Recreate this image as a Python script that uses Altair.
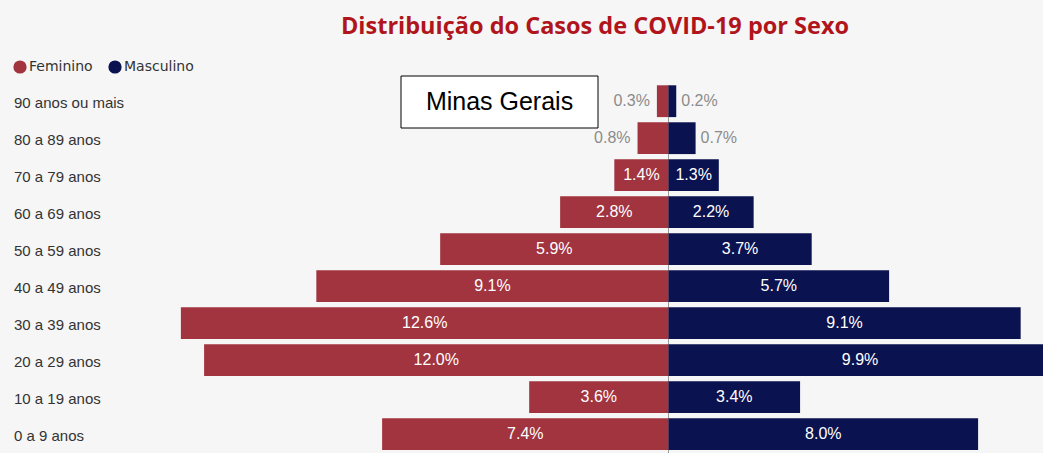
import altair as alt
import pandas as pd

# ---- data ----
ages = ["0 a 9 anos", "10 a 19 anos", "20 a 29 anos", "30 a 39 anos", "40 a 49 anos",
        "50 a 59 anos", "60 a 69 anos", "70 a 79 anos", "80 a 89 anos", "90 anos ou mais"]
feminino = [7.4, 3.6, 12.0, 12.6, 9.1, 5.9, 2.8, 1.4, 0.8, 0.3]
masculino = [8.0, 3.4, 9.9, 9.1, 5.7, 3.7, 2.2, 1.3, 0.7, 0.2]
sexes = ["Feminino", "Masculino"]
colors = ["#A1343F", "#0B1250"]
title_text = "Distribuição do Casos de COVID-19 por Sexo"
box_text = ["Minas Gerais"]

rows = []
for a, f, m in zip(ages, feminino, masculino):
    rows.append({"faixa": a, "sexo": "Feminino", "valor": f, "x": -f})
    rows.append({"faixa": a, "sexo": "Masculino", "valor": m, "x": m})
df = pd.DataFrame(rows)
df["label"] = df["valor"].map(lambda v: f"{v:.1f}%")
df["mid"] = df["x"] / 2
df["zero"] = 0.0
df["inside"] = (df["valor"] >= 1).astype(int)

W, H = 1043, 453
PX = 38.7
CENTER = 668.5
xs = alt.Scale(domain=[-CENTER / PX, (W - CENTER) / PX], nice=False, zero=False)
cs = alt.Scale(domain=sexes, range=colors)
order = ages[::-1]
yenc = alt.Y("faixa:N", axis=None,
             scale=alt.Scale(domain=order, range=[82.7, 452.6],
                             paddingInner=0.14, paddingOuter=0.07))

base = alt.Chart(df)

bars = base.mark_bar(clip=True).encode(
    x=alt.X("x:Q", scale=xs, axis=None),
    x2="zero:Q",
    y=yenc,
    color=alt.Color("sexo:N", scale=cs, legend=None),
)

inside = base.transform_filter("datum.inside == 1").mark_text(
    color="white", fontSize=16, font="Liberation Sans"
).encode(x=alt.X("mid:Q", scale=xs, axis=None), y=yenc, text="label:N")

out_f = base.transform_filter("datum.inside == 0 && datum.sexo == 'Feminino'").mark_text(
    color="#8c8c8c", fontSize=16, font="Liberation Sans", align="right", dx=-7
).encode(x=alt.X("x:Q", scale=xs, axis=None), y=yenc, text="label:N")

out_m = base.transform_filter("datum.inside == 0 && datum.sexo == 'Masculino'").mark_text(
    color="#8c8c8c", fontSize=16, font="Liberation Sans", align="left", dx=5
).encode(x=alt.X("x:Q", scale=xs, axis=None), y=yenc, text="label:N")

ylabels = alt.Chart(pd.DataFrame({"faixa": ages})).mark_text(
    align="left", fontSize=15, font="Liberation Sans", color="#333333", dy=2
).encode(x=alt.value(14), y=yenc, text="faixa:N")

rule = alt.Chart(pd.DataFrame({"x": [0.0]})).mark_rule(color="#9a9a9a", strokeWidth=1).encode(
    x=alt.X("x:Q", scale=xs, axis=None), y=alt.value(85), y2=alt.value(H)
)

# legend drawn as marks (one dot + label per category)
leg_df = pd.DataFrame({"sexo": sexes})
legend_layers = []
for s, lx in zip(sexes, [20, 115]):
    sub = alt.Chart(leg_df).transform_filter(f"datum.sexo == '{s}'")
    legend_layers.append(
        sub.mark_point(filled=True, size=175, opacity=1, shape="circle").encode(
            x=alt.value(lx), y=alt.value(67),
            color=alt.Color("sexo:N", scale=cs, legend=None),
        )
    )
    legend_layers.append(
        sub.mark_text(align="left", fontSize=14, font="DejaVu Sans", color="#333333").encode(
            x=alt.value(lx + 9), y=alt.value(67), text="sexo:N",
        )
    )

box_df = pd.DataFrame({"t": box_text})
box = alt.Chart(box_df).mark_rect(fill="white", stroke="black", strokeWidth=1).encode(
    x=alt.value(401), x2=alt.value(598), y=alt.value(76), y2=alt.value(128)
)
box_label = alt.Chart(box_df).mark_text(fontSize=25, font="Liberation Sans", color="black").encode(
    x=alt.value(499.5), y=alt.value(102), text="t:N"
)

title_df = pd.DataFrame({"t": [title_text]})
title = alt.Chart(title_df).mark_text(
    fontSize=23.5, font="Open Sans", fontWeight="bold", color="#B0151C", baseline="alphabetic"
).encode(x=alt.value(595), y=alt.value(34), text="t:N")

chart = alt.layer(
    rule, bars, inside, out_f, out_m, ylabels, *legend_layers, box, box_label, title
).properties(
    width=W, height=H, padding=0, background="#f6f6f6",
).configure_view(strokeWidth=0)

chart.save("out.html", embed_options={"renderer": "svg", "actions": False})
